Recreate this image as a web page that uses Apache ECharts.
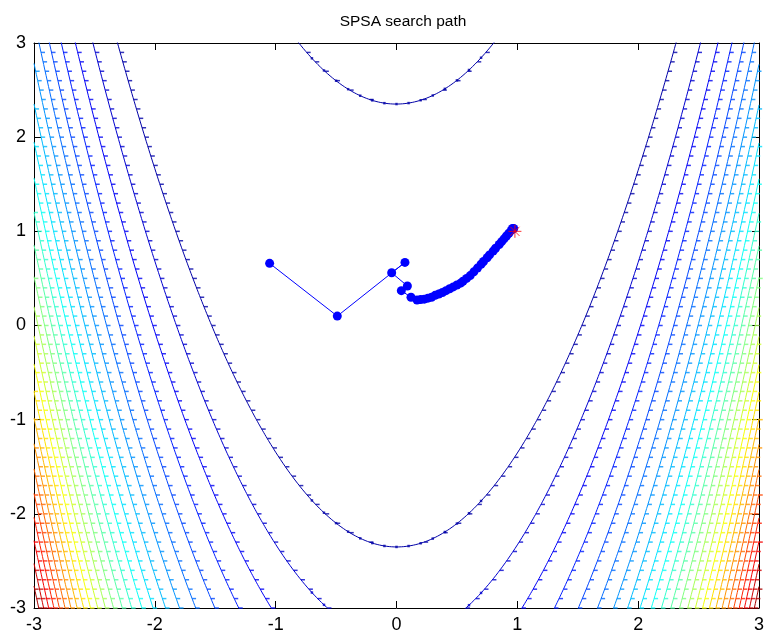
<!DOCTYPE html>
<html>
<head>
<meta charset="utf-8">
<title>SPSA search path</title>
<script src="https://cdn.jsdelivr.net/npm/echarts@6/dist/echarts.min.js"></script>
<style>
  html, body { margin: 0; padding: 0; background: #fff; }
  #chart { width: 767px; height: 639px; }
</style>
</head>
<body>
<div id="chart"></div>
<script>
// contour levels of the Rosenbrock surface f = (1-x)^2 + 100(y-x^2)^2
const levels = [554, 1109, 1663, 2218, 2772, 3327, 3881, 4435, 4990, 5544, 6099, 6653, 7208,
                7762, 8317, 8871, 9425, 9980, 10534, 11089, 11643, 12198, 12752, 13306, 13861];
const zTop = 14416;

// SPSA iterates
const pathX = [-1.05, -0.49, 0.07, -0.04, 0.09, 0.04, 0.12, 0.17, 0.20, 0.23, 0.26, 0.29, 0.32,
               0.35, 0.38, 0.41, 0.44, 0.47, 0.50, 0.53, 0.55, 0.58, 0.61, 0.64, 0.67, 0.70,
               0.72, 0.75, 0.77, 0.80, 0.82, 0.85, 0.87, 0.89, 0.91, 0.93, 0.95, 0.96, 0.97];
const pathY = [0.66, 0.10, 0.67, 0.56, 0.42, 0.37, 0.30, 0.27, 0.275, 0.28, 0.29, 0.30, 0.32,
               0.335, 0.35, 0.37, 0.39, 0.41, 0.43, 0.45, 0.47, 0.50, 0.53, 0.57, 0.61, 0.65,
               0.68, 0.72, 0.75, 0.79, 0.82, 0.86, 0.89, 0.92, 0.95, 0.98, 1.01, 1.03, 1.03];

// final point (red star)
const starX = [0.98];
const starY = [1.00];

const fontFamily = '"Liberation Sans", Arial, sans-serif';

function jet(t) {
    const c = v => Math.round(255 * Math.max(0, Math.min(1, v)));
    return 'rgb(' + c(1.5 - Math.abs(4 * t - 3)) + ',' + c(1.5 - Math.abs(4 * t - 2)) + ',' + c(1.5 - Math.abs(4 * t - 1)) + ')';
}

// one branch of the level curve: y = x^2 +/- sqrt((L - (1-x)^2) / 100)
function branch(L, sign) {
    const pts = [];
    for (let i = 0; i <= 600; i++) {
        const x = Math.round((-3 + i * 0.01) * 100) / 100;
        const r = Math.sqrt(Math.max(0, L - (1 - x) * (1 - x)) / 100);
        pts.push([x, x * x + sign * r]);
    }
    return pts;
}

// little grid marks that the original plot shows along every contour
function rowMarks(pts) {
    const out = [];
    for (let i = 1; i < pts.length; i++) {
        const [x0, y0] = pts[i - 1], [x1, y1] = pts[i];
        const lo = Math.max(Math.min(y0, y1), -3), hi = Math.min(Math.max(y0, y1), 3);
        if (lo > hi || y1 === y0) continue;
        for (let k = Math.ceil(lo * 10 - 1e-9); k / 10 < hi; k++) {
            const yr = k / 10;
            out.push([x0 + (x1 - x0) * (yr - y0) / (y1 - y0), yr]);
        }
    }
    return out;
}
function colMarks(pts) {
    const out = [];
    for (let i = 10; i < pts.length - 1; i += 10) {
        const [x, y] = pts[i];
        const slope = (pts[i + 1][1] - pts[i - 1][1]) / 0.02;
        if (y >= -3 && y <= 3 && Math.abs(slope) < 1.5) out.push([x, y]);
    }
    return out;
}

const series = [];
levels.forEach(L => {
    const color = jet(L / zTop);
    let dashes = [], dots = [];
    [1, -1].forEach(s => {
        const pts = branch(L, s);
        series.push({
            type: 'line', data: pts, showSymbol: false, silent: true, clip: true,
            lineStyle: { color: color, width: 1 }, z: 2
        });
        dashes = dashes.concat(rowMarks(pts));
        dots = dots.concat(colMarks(pts));
    });
    series.push({
        type: 'scatter', data: dashes, symbol: 'rect', symbolSize: [4, 1.5], symbolOffset: [2, 0],
        itemStyle: { color: color }, silent: true, z: 2
    });
    series.push({
        type: 'scatter', data: dots, symbol: 'rect', symbolSize: [2.5, 2.5],
        itemStyle: { color: color }, silent: true, z: 2
    });
});

series.push({
    type: 'line',
    data: pathX.map((x, i) => [x, pathY[i]]),
    symbol: 'circle', symbolSize: 9, showAllSymbol: true,
    itemStyle: { color: '#0000ff' },
    lineStyle: { color: '#0000ff', width: 1 },
    z: 5
});
series.push({
    type: 'scatter',
    data: starX.map((x, i) => [x, starY[i]]),
    symbol: 'path://M0,5L10,5M5,0L5,10M1.5,1.5L8.5,8.5M8.5,1.5L1.5,8.5',
    symbolSize: 13,
    itemStyle: { color: 'rgba(0,0,0,0)', borderColor: '#ff0000', borderWidth: 1 },
    z: 6
});

function axis(pos, labels) {
    return {
        type: 'value', min: -3, max: 3, interval: 1, position: pos,
        axisLine: { onZero: false, lineStyle: { color: '#000', width: 1 } },
        axisTick: { inside: true, length: 7, lineStyle: { color: '#000' } },
        axisLabel: { show: labels, color: '#000', fontSize: 18, margin: 8, fontFamily: fontFamily },
        splitLine: { show: false }
    };
}

const chart = echarts.init(document.getElementById('chart'));
chart.setOption({
    animation: false,
    backgroundColor: '#fff',
    title: {
        text: 'SPSA search path', left: 398, top: 9, textAlign: 'center',
        textStyle: { color: '#000', fontSize: 15.5, fontWeight: 'normal', fontFamily: fontFamily }
    },
    grid: { left: 34, right: 5, top: 43, bottom: 31 },
    xAxis: [axis('bottom', true), axis('top', false)],
    yAxis: [axis('left', true), axis('right', false)],
    series: series
});
</script>
</body>
</html>
